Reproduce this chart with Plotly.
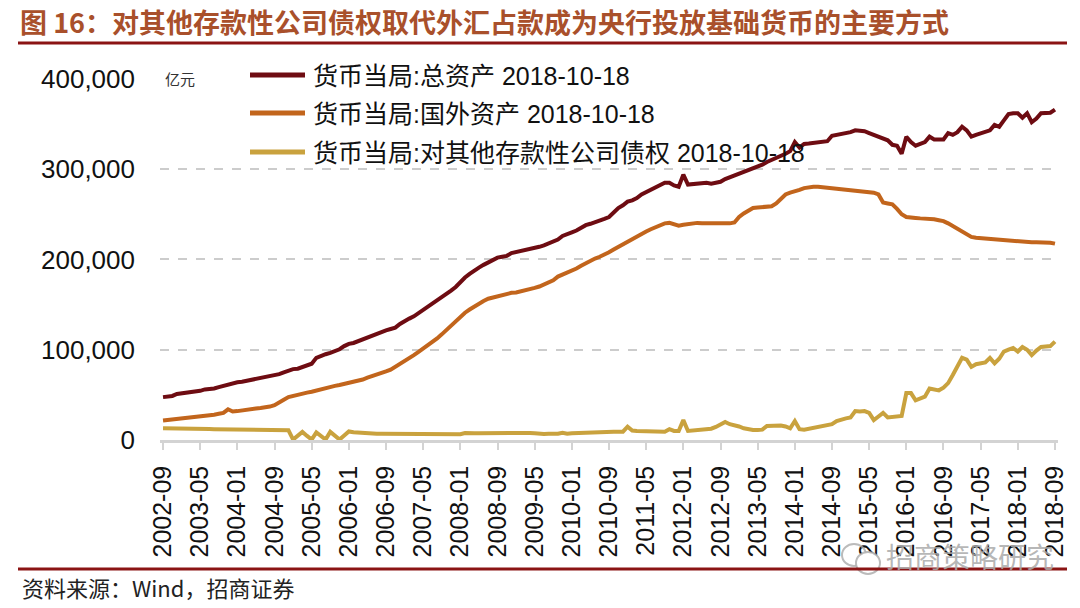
import pandas as pd
import plotly.graph_objects as go

# ---------------- data (亿元, monthly 2002-09 .. 2018-09) ----------------
months = pd.date_range("2002-09-01", "2018-09-01", freq="MS").strftime("%Y-%m").tolist()

total_assets = [
    47500, 48000, 48800, 51000,
    51500, 52000, 53000, 54000, 54500, 56000, 56000, 57000, 58500, 60000, 61000, 62500,
    64000, 64500, 65500, 67000, 67500, 68500, 69500, 70500, 71500, 73000, 75000, 77000,
    78500, 79000, 80500, 82500, 84500, 91000, 93500, 95000, 96500, 98500, 100500, 104000,
    106500, 107500, 109500, 112000, 114000, 116500, 118500, 120000, 121500, 123000, 124500, 128500,
    132000, 134500, 137000, 140500, 143500, 147000, 151000, 155000, 158500, 162000, 165500, 169500,
    175000, 180000, 184000, 188000, 191000, 194000, 197000, 200000, 202000, 203000, 204000, 207000,
    208000, 209500, 210500, 212000, 213000, 214000, 215500, 218000, 220000, 222000, 226000, 227500,
    230000, 232000, 235000, 238000, 239500, 241000, 243000, 245000, 247000, 252000, 257000, 260000,
    264000, 265500, 268000, 272000, 274500, 277000, 280000, 282500, 285000, 285000, 282000, 280500,
    294000, 283000, 283500, 283000, 284000, 285000, 284000, 285500, 286000, 289000, 291000, 292000,
    294000, 297000, 299000, 301000, 303000, 305000, 308000, 310000, 312000, 314000, 317000, 320000,
    330000, 324000, 328000, 328500, 329000, 330000, 330500, 331000, 337000, 338000, 339000, 339500,
    341000, 343000, 342500, 342000, 340000, 338000, 336000, 334000, 332000, 327000, 326000, 317000,
    336000, 330000, 326000, 328000, 330000, 336000, 333000, 333000, 333000, 340000, 338000, 341000,
    347000, 343000, 336000, 338000, 340000, 342000, 343000, 349000, 347000, 354000, 361000, 362000,
    362000, 357000, 362000, 352000, 356000, 362000, 362000, 362500, 366000,
]

foreign_assets = [
    21500, 22000, 22500, 23000,
    23500, 24000, 24500, 25000, 26000, 26500, 27500, 28000, 29000, 30000, 34000, 31500,
    32000, 33000, 33500, 34500, 35000, 35500, 36000, 37000, 38500, 41000, 44500, 47500,
    49000, 50000, 51000, 52500, 53500, 55000, 56000, 57500, 58500, 60000, 61000, 62000,
    63000, 64500, 65500, 67000, 69000, 70500, 72000, 74000, 76000, 78000, 81000, 84000,
    87000, 90500, 94000, 97500, 101000, 104500, 108500, 112500, 117000, 122000, 127000, 131000,
    136500, 141000, 144500, 148000, 151000, 154000, 156500, 158000, 159500, 161000, 162000, 163000,
    163500, 164500, 166000, 167500, 168500, 170000, 172000, 174000, 177000, 181000, 183000, 185000,
    187500, 190000, 193000, 196000, 198500, 201000, 203000, 205000, 208000, 211000, 214000, 216500,
    220000, 222500, 225000, 228000, 231000, 233500, 236000, 238000, 240000, 240500, 239000, 237500,
    238500, 239500, 240000, 240500, 240000, 240000, 239500, 240000, 240000, 240500, 240000, 241000,
    247000, 251000, 254000, 257000, 257500, 258000, 258000, 259000, 262000, 267000, 272000, 274000,
    275000, 277000, 279000, 280000, 280500, 280500, 280000, 279500, 278500, 278000, 277500, 277000,
    276500, 276000, 275500, 275000, 274500, 274000, 272000, 263000, 262000, 261000, 256000, 250000,
    247000, 246000, 246000, 245500, 245500, 245000, 244500, 243500, 242500, 240000, 237000, 234000,
    230000, 227000, 225000, 224000, 223500, 223000, 222500, 222000, 222000, 221500, 221000, 221000,
    220500, 220000, 219500, 219000, 219000, 219000, 219000, 218500, 217500,
]

claims_on_banks = [
    13000, 12800, 12800, 12500,
    12500, 12400, 12300, 12300, 12200, 12000, 12100, 12000, 11900, 12000, 12300, 12200,
    12300, 12000, 11500, 11300, 11200, 11000, 11000, 11000, 10900, 10800, 10800, 10700,
    500, 5000, 9000, 4500, 500, 8500, 4500, 500, 9000, 4500, 500, 5000,
    9500, 8500, 8000, 7500, 7300, 7200, 7000, 7000, 7000, 7000, 7000, 7000,
    6900, 6900, 6800, 6800, 6800, 6800, 6800, 6800, 6800, 6800, 6800, 6800,
    6500, 7800, 7200, 7500, 7600, 7700, 7800, 7800, 7800, 7900, 7900, 7900,
    7900, 7900, 7800, 7800, 7500, 6800, 6700, 6800, 6800, 6900, 8000, 7000,
    7500, 7800, 8000, 8000, 8200, 8500, 8500, 8800, 9000, 9200, 9200, 9200,
    14800, 10500, 10000, 9800, 9800, 9800, 9600, 9400, 9200, 12000, 10000, 10000,
    22000, 10000, 10500, 11000, 12000, 13000, 12500, 14500, 17500, 20000, 17500, 16500,
    15000, 13000, 11500, 11000, 11000, 11500, 15500, 16000, 16600, 16000, 15000, 13000,
    21000, 12000, 11500, 12500, 13500, 14800, 15500, 16600, 17500, 21000, 23000, 24000,
    25000, 32000, 31500, 32000, 30000, 22000, 26000, 30000, 25000, 25500, 26500, 26600,
    52000, 52000, 44000, 46000, 48000, 57000, 56000, 55000, 58000, 63000, 72000, 82000,
    91000, 89000, 81000, 84000, 85000, 86000, 91000, 85000, 90000, 98000, 100000, 102000,
    98000, 103000, 100000, 94000, 99000, 103000, 103500, 104000, 109000,
]

series_names = [
    "货币当局:总资产 2018-10-18",
    "货币当局:国外资产 2018-10-18",
    "货币当局:对其他存款性公司债权 2018-10-18",
]
series_colors = ["#6E0C12", "#C2651C", "#C9A23E"]

x_tick_labels = months[::8]
y_tick_values = [0, 100000, 200000, 300000, 400000]
y_tick_labels = ["0", "100,000", "200,000", "300,000", "400,000"]

title_text = "<b>图 16：对其他存款性公司债权取代外汇占款成为央行投放基础货币的主要方式</b>"
unit_text = "亿元"
source_text = "资料来源：Wind，招商证券"
watermark_text = "招商策略研究"

# ---------------- layout helpers (pixel -> paper) ----------------
PL, PR, PT, PB = 160, 1058, 78, 440
W, H = 1080, 608


def px(x):
    return (x - PL) / (PR - PL)


def py(y):
    return (PB - y) / (PB - PT)


LAT = "Liberation Sans, Arial, Noto Sans CJK SC"
CJK = "Noto Sans CJK SC, Liberation Sans"

fig = go.Figure()
for name, vals, color in zip(series_names, [total_assets, foreign_assets, claims_on_banks], series_colors):
    fig.add_trace(go.Scatter(x=months, y=vals, mode="lines", name=name,
                             line=dict(color=color, width=4), showlegend=False,
                             hoverinfo="skip"))

shapes = []
annotations = []

# manual legend
leg_y = [75, 113, 152]
for name, color, yy in zip(series_names, series_colors, leg_y):
    shapes.append(dict(type="line", xref="paper", yref="paper",
                       x0=px(250), x1=px(305), y0=py(yy), y1=py(yy),
                       line=dict(color=color, width=5)))
    annotations.append(dict(text=name, xref="paper", yref="paper",
                            x=px(311), y=py(yy + 1), xanchor="left", yanchor="middle",
                            showarrow=False, font=dict(family=LAT, size=25, color="#111111")))

# unit label
annotations.append(dict(text=unit_text, xref="paper", yref="paper", x=px(163), y=py(78),
                        xanchor="left", yanchor="middle", showarrow=False,
                        font=dict(family=CJK, size=15, color="#333333")))

# title
annotations.append(dict(text=title_text, xref="paper", yref="paper", x=px(18), y=py(22),
                        xanchor="left", yanchor="middle", showarrow=False,
                        font=dict(family=CJK, size=27, color="#A9502B")))

# source
annotations.append(dict(text=source_text, xref="paper", yref="paper", x=px(20), y=py(587),
                        xanchor="left", yanchor="middle", showarrow=False,
                        font=dict(family=CJK, size=22, color="#222222")))

# watermark
annotations.append(dict(text=watermark_text, xref="paper", yref="paper", x=px(884), y=py(556),
                        xanchor="left", yanchor="middle", showarrow=False,
                        font=dict(family=CJK, size=28, color="rgba(170,170,170,0.85)")))
shapes.append(dict(type="circle", xref="paper", yref="paper",
                   x0=px(842), x1=px(866), y0=py(566), y1=py(544),
                   line=dict(color="rgba(170,170,170,0.8)", width=2)))
shapes.append(dict(type="circle", xref="paper", yref="paper",
                   x0=px(856), x1=px(880), y0=py(574), y1=py(552),
                   line=dict(color="rgba(170,170,170,0.8)", width=2), fillcolor="white"))

# rules
shapes.append(dict(type="line", xref="paper", yref="paper", x0=px(18), x1=px(1067),
                   y0=py(43), y1=py(43), line=dict(color="#8B1414", width=3)))
shapes.append(dict(type="line", xref="paper", yref="paper", x0=px(18), x1=px(1067),
                   y0=py(569), y1=py(569), line=dict(color="#8B1414", width=3)))

fig.update_layout(
    width=W, height=H,
    margin=dict(l=PL, r=W - PR, t=PT, b=H - PB, pad=0),
    paper_bgcolor="white", plot_bgcolor="white",
    shapes=shapes, annotations=annotations,
    xaxis=dict(type="category", range=[-0.65, 192.65],
               tickmode="array", tickvals=x_tick_labels, ticktext=x_tick_labels,
               tickangle=-90, tickfont=dict(family=LAT, size=25, color="#111111"),
               showline=True, linecolor="#D3D3D3", linewidth=2.5,
               ticks="outside", ticklen=7, tickwidth=2, tickcolor="#D3D3D3",
               ticklabelstandoff=6, showgrid=False, zeroline=False),
    yaxis=dict(range=[0, 401000], tickmode="array", tickvals=y_tick_values,
               ticktext=y_tick_labels, tickfont=dict(family=LAT, size=26, color="#111111"),
               showgrid=True, gridcolor="#CCCCCC", griddash="dash", gridwidth=1.5,
               zeroline=False, showline=False, ticks="", ticklabelstandoff=24),
)

fig.write_html("out.html", config={"displayModeBar": False},
               post_script="document.body.style.margin='0';document.body.style.overflow='hidden';")
